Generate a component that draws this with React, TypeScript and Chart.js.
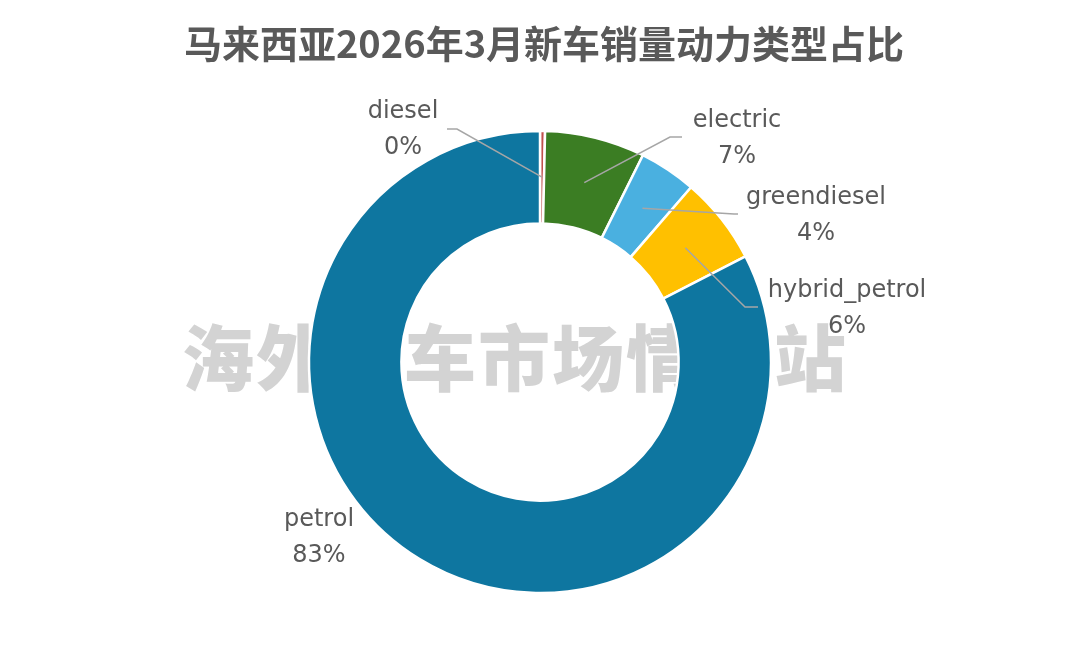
import React, { useEffect, useRef } from "react";
import { Chart, registerables } from "chart.js";

Chart.register(...registerables);

const chartTitle = "马来西亚2026年3月新车销量动力类型占比";
const watermarkText = "海外汽车市场情报站";
const categories = ["diesel", "electric", "greendiesel", "hybrid_petrol", "petrol"];
const shares = [0.35, 7.0, 4.0, 6.1, 82.55];
const sliceColors = ["#C0504D", "#3B7D23", "#4AB0E0", "#FFC000", "#0E76A0"];

// label placement relative to the doughnut centre (style/layout only)
const labelLayout: { x: number; y: number; line: number[][] | null }[] = [
  { x: -137, y: -232, line: [[-93, -233], [-83, -233]] },
  { x: 197, y: -223, line: [[142, -225], [130, -225]] },
  { x: 276, y: -146, line: [[198, -148], [194, -148]] },
  { x: 307, y: -53, line: [[218, -55], [205, -55]] },
  { x: -221, y: 176, line: null },
];

const TEXT = "#595959";

const overlayPlugin = {
  id: "overlay",
  beforeDatasetsDraw(chart: any) {
    const ctx = chart.ctx as CanvasRenderingContext2D;
    ctx.save();
    ctx.font = "900 72px 'Noto Sans CJK SC'";
    ctx.fillStyle = "#d3d3d3";
    ctx.textAlign = "center";
    ctx.textBaseline = "middle";
    try { (ctx as any).letterSpacing = "2px"; } catch (e) {}
    ctx.fillText(watermarkText, 515, 358);
    ctx.restore();
  },
  afterDatasetsDraw(chart: any) {
    const ctx = chart.ctx as CanvasRenderingContext2D;
    const meta = chart.getDatasetMeta(0);
    const data = chart.data.datasets[0].data as number[];
    const total = data.reduce((a, b) => a + b, 0);
    ctx.save();
    // title
    ctx.font = "bold 38px 'Noto Sans CJK SC'";
    ctx.fillStyle = TEXT;
    ctx.textAlign = "center";
    ctx.textBaseline = "middle";
    ctx.fillText(chartTitle, 544, 44);

    meta.data.forEach((arc: any, i: number) => {
      const p = arc.getProps(["x", "y", "startAngle", "endAngle", "innerRadius", "outerRadius"], true);
      const cx = p.x, cy = p.y;
      const mid = (p.startAngle + p.endAngle) / 2;
      const r = (p.innerRadius + p.outerRadius) / 2;
      const mx = cx + Math.cos(mid) * r;
      const my = cy + Math.sin(mid) * r;
      const lay = labelLayout[i];
      if (lay.line) {
        ctx.beginPath();
        ctx.strokeStyle = "#A6A6A6";
        ctx.lineWidth = 1.5;
        ctx.moveTo(cx + lay.line[0][0], cy + lay.line[0][1]);
        for (let k = 1; k < lay.line.length; k++) ctx.lineTo(cx + lay.line[k][0], cy + lay.line[k][1]);
        ctx.lineTo(mx, my);
        ctx.stroke();
      }
      const pct = Math.round((data[i] * 100) / total) + "%";
      ctx.font = "24px 'DejaVu Sans'";
      ctx.fillStyle = TEXT;
      ctx.textAlign = "center";
      ctx.textBaseline = "middle";
      ctx.fillText(chart.data.labels[i], cx + lay.x, cy + lay.y - 18);
      ctx.fillText(pct, cx + lay.x, cy + lay.y + 18);
    });
    ctx.restore();
  },
};

export default function App() {
  const ref = useRef<HTMLCanvasElement | null>(null);
  useEffect(() => {
    if (!ref.current) return;
    const chart = new Chart(ref.current, {
      type: "doughnut",
      data: {
        labels: categories,
        datasets: [
          {
            data: shares,
            backgroundColor: sliceColors,
            borderColor: "#FFFFFF",
            borderWidth: 2.5,
          },
        ],
      },
      options: {
        animation: false,
        responsive: false,
        devicePixelRatio: 1,
        radius: 231,
        cutout: "60%",
        layout: { padding: { top: 100, bottom: 32, left: 0, right: 0 } },
        plugins: {
          legend: { display: false },
          tooltip: { enabled: false },
          title: { display: false },
        },
      },
      plugins: [overlayPlugin],
    } as any);
    let alive = true;
    if ((document as any).fonts) {
      Promise.all([
        document.fonts.load("bold 38px 'Noto Sans CJK SC'"),
        document.fonts.load("900 72px 'Noto Sans CJK SC'"),
        document.fonts.load("24px 'DejaVu Sans'"),
      ]).then(() => { if (alive) chart.draw(); }).catch(() => {});
    }
    return () => { alive = false; chart.destroy(); };
  }, []);
  return (
    <div style={{ position: "fixed", left: 0, top: 0, width: 1080, height: 656, background: "#FFFFFF" }}>
      <canvas ref={ref} width={1080} height={656} style={{ width: 1080, height: 656, display: "block" }} />
    </div>
  );
}
